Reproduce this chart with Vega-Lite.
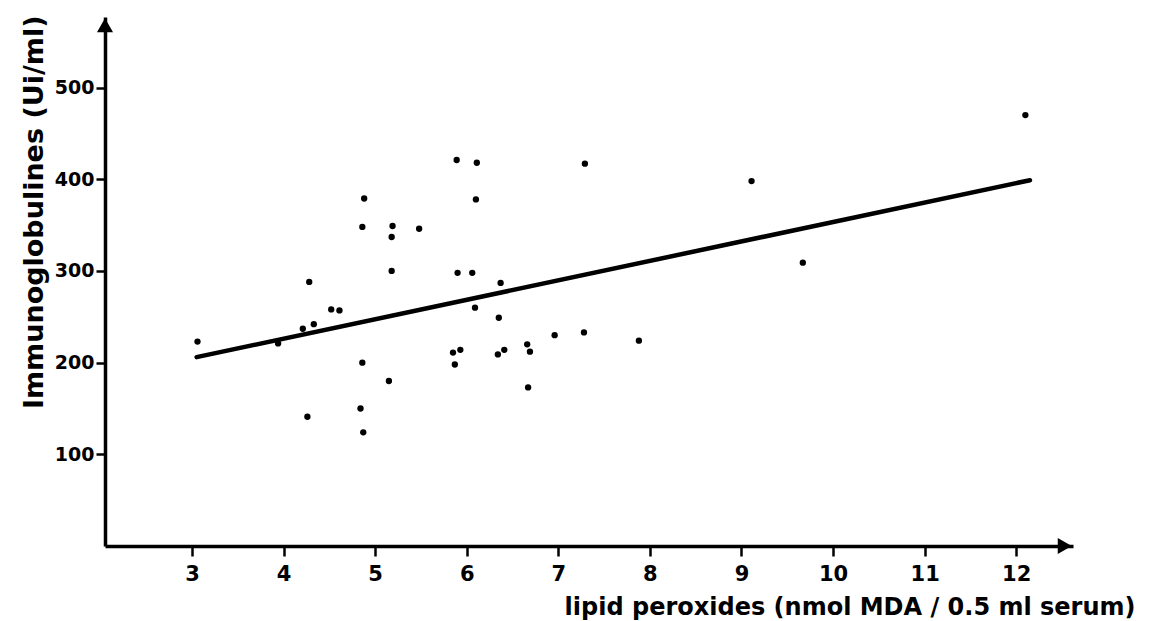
{
  "$schema": "https://vega.github.io/schema/vega-lite/v6.json",
  "width": 968,
  "height": 529,
  "autosize": {"type": "none"},
  "padding": {"left": 105, "top": 17, "right": 78, "bottom": 75},
  "background": "white",
  "config": {
    "view": {"stroke": null},
    "axis": {"grid": false, "domainColor": "black", "tickColor": "black", "labelColor": "black", "titleColor": "black"}
  },
  "datasets": {
    "points": [
      {"lipid": 3.06, "ig": 223},
      {"lipid": 3.94, "ig": 221},
      {"lipid": 4.21, "ig": 237},
      {"lipid": 4.33, "ig": 242},
      {"lipid": 4.28, "ig": 288},
      {"lipid": 4.52, "ig": 258},
      {"lipid": 4.61, "ig": 257},
      {"lipid": 4.26, "ig": 141},
      {"lipid": 4.88, "ig": 379},
      {"lipid": 4.86, "ig": 348},
      {"lipid": 4.86, "ig": 200},
      {"lipid": 4.84, "ig": 150},
      {"lipid": 4.87, "ig": 124},
      {"lipid": 5.15, "ig": 180},
      {"lipid": 5.19, "ig": 349},
      {"lipid": 5.18, "ig": 337},
      {"lipid": 5.18, "ig": 300},
      {"lipid": 5.48, "ig": 346},
      {"lipid": 5.89, "ig": 421},
      {"lipid": 6.11, "ig": 418},
      {"lipid": 7.29, "ig": 417},
      {"lipid": 9.11, "ig": 398},
      {"lipid": 6.1, "ig": 378},
      {"lipid": 5.9, "ig": 298},
      {"lipid": 6.06, "ig": 298},
      {"lipid": 6.37, "ig": 287},
      {"lipid": 6.09, "ig": 260},
      {"lipid": 6.35, "ig": 249},
      {"lipid": 6.96, "ig": 230},
      {"lipid": 7.28, "ig": 233},
      {"lipid": 7.88, "ig": 224},
      {"lipid": 5.85, "ig": 211},
      {"lipid": 5.93, "ig": 214},
      {"lipid": 6.34, "ig": 209},
      {"lipid": 6.41, "ig": 214},
      {"lipid": 6.66, "ig": 220},
      {"lipid": 6.69, "ig": 212},
      {"lipid": 5.87, "ig": 198},
      {"lipid": 6.67, "ig": 173},
      {"lipid": 9.67, "ig": 309},
      {"lipid": 12.1, "ig": 470}
    ],
    "regression": [
      {"lipid": 3.05, "ig": 206},
      {"lipid": 12.15, "ig": 399}
    ],
    "arrows": [
      {"lipid": 2.05, "ig": 568, "shape": "triangle-up"},
      {"lipid": 12.53, "ig": 0, "shape": "triangle-right"}
    ]
  },
  "layer": [
    {
      "data": {"name": "points"},
      "mark": {"type": "point", "filled": true, "color": "black", "opacity": 1, "size": 40, "shape": "circle"},
      "encoding": {
        "x": {
          "field": "lipid", "type": "quantitative",
          "scale": {"domain": [2.05, 12.62], "nice": false, "zero": false},
          "axis": {
            "values": [3, 4, 5, 6, 7, 8, 9, 10, 11, 12],
            "format": "d",
            "title": "lipid peroxides (nmol MDA / 0.5 ml serum)",
            "titleFont": "DejaVu Sans", "titleFontWeight": "bold", "titleFontSize": 24,
            "titleX": 1030, "titleY": 68, "titleAlign": "right", "titleBaseline": "alphabetic",
            "labelFont": "DejaVu Sans", "labelFontWeight": "bold", "labelFontSize": 21,
            "labelPadding": 7, "labelFlush": false,
            "tickSize": 10, "tickWidth": 2.5, "domainWidth": 3.5
          }
        },
        "y": {
          "field": "ig", "type": "quantitative",
          "scale": {"domain": [0, 577], "nice": false, "zero": true},
          "axis": {
            "values": [100, 200, 300, 400, 500],
            "format": "d",
            "title": "Immunoglobulines (Ui/ml)",
            "titleFont": "DejaVu Sans", "titleFontWeight": "bold", "titleFontSize": 27,
            "titleX": -63, "titleY": -2, "titleAngle": -90, "titleAlign": "right", "titleBaseline": "alphabetic",
            "labelFont": "DejaVu Sans", "labelFontWeight": "bold", "labelFontSize": 19,
            "labelPadding": 2, "labelFlush": false,
            "tickSize": 9, "tickWidth": 2.5, "domainWidth": 3.5
          }
        }
      }
    },
    {
      "data": {"name": "regression"},
      "mark": {"type": "line", "color": "black", "strokeWidth": 4.5, "strokeCap": "round"},
      "encoding": {
        "x": {"field": "lipid", "type": "quantitative"},
        "y": {"field": "ig", "type": "quantitative"}
      }
    },
    {
      "data": {"name": "arrows"},
      "mark": {"type": "point", "filled": true, "color": "black", "opacity": 1, "size": 260, "clip": false},
      "encoding": {
        "x": {"field": "lipid", "type": "quantitative"},
        "y": {"field": "ig", "type": "quantitative"},
        "shape": {"field": "shape", "type": "nominal", "scale": null}
      }
    }
  ]
}
